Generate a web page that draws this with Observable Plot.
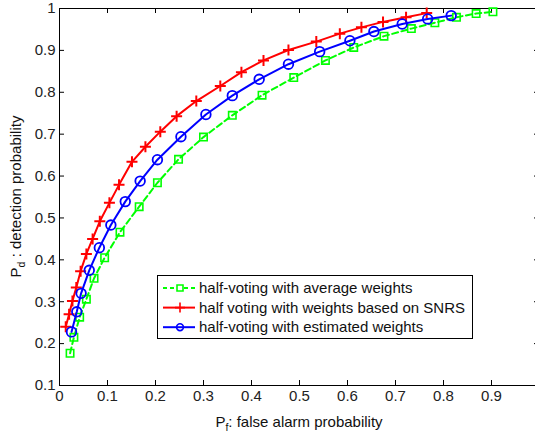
<!DOCTYPE html>
<html><head><meta charset="utf-8">
<script src="https://cdn.jsdelivr.net/npm/d3@7"></script>
<script src="https://cdn.jsdelivr.net/npm/@observablehq/plot@0.6"></script>
<style>
html,body{margin:0;padding:0;background:#fff;}
#chart{position:relative;width:535px;height:435px;overflow:hidden;}
</style></head><body><div id="chart"></div>
<script>
// ---- data ----
const seriesNames = [
  "half-voting with average weights",
  "half voting with weights based on SNRS",
  "half-voting with estimated weights"
];
const seriesColors = ["#00ff00", "#ff0000", "#0000ff"];

const pfAvg = [0.022,0.030,0.042,0.056,0.072,0.094,0.126,0.166,0.204,0.248,0.300,0.360,0.422,0.488,0.554,0.613,0.676,0.733,0.782,0.827,0.868,0.903];
const pdAvg = [0.177,0.215,0.263,0.306,0.356,0.405,0.466,0.527,0.584,0.640,0.693,0.745,0.793,0.835,0.876,0.907,0.934,0.952,0.966,0.979,0.988,0.992];

const pfSnr = [0.013,0.020,0.027,0.035,0.044,0.056,0.069,0.084,0.104,0.124,0.151,0.179,0.210,0.244,0.285,0.335,0.379,0.425,0.477,0.535,0.584,0.629,0.674,0.722,0.765];
const pdSnr = [0.240,0.270,0.302,0.334,0.373,0.414,0.450,0.492,0.536,0.579,0.634,0.670,0.706,0.743,0.779,0.815,0.848,0.876,0.901,0.921,0.940,0.955,0.968,0.979,0.989];

const pfEst = [0.025,0.036,0.045,0.062,0.083,0.107,0.137,0.168,0.204,0.253,0.305,0.360,0.416,0.477,0.542,0.605,0.655,0.714,0.767,0.816];
const pdEst = [0.228,0.276,0.320,0.375,0.429,0.483,0.539,0.588,0.639,0.694,0.747,0.792,0.831,0.867,0.897,0.923,0.945,0.963,0.975,0.983];

const xTicks = [0,0.1,0.2,0.3,0.4,0.5,0.6,0.7,0.8,0.9,1];
const yTicks = [0.1,0.2,0.3,0.4,0.5,0.6,0.7,0.8,0.9,1];
const xLabel = ["P", "f", ": false alarm probability"];
const yLabel = ["P", "d", " : detection probability"];

// ---- custom outline symbols ----
const rOf = size => Math.sqrt(size / Math.PI);
const symSquare = {draw(c, size){ const r = rOf(size); c.rect(-r, -r, 2*r, 2*r); }};
const symPlus = {draw(c, size){ const r = rOf(size); c.moveTo(-r,0); c.lineTo(r,0); c.moveTo(0,-r); c.lineTo(0,r); }};
const symCircle = {draw(c, size){ const r = rOf(size); c.moveTo(r,0); c.arc(0,0,r,0,2*Math.PI); }};

const rows = (xs, ys) => xs.map((x, i) => ({x, y: ys[i]}));
const dAvg = rows(pfAvg, pdAvg), dSnr = rows(pfSnr, pdSnr), dEst = rows(pfEst, pdEst);

const W = 535, H = 435, mL = 59, mR = -4, mT = 8, mB = 50;
const plotW = W - mL - mR, plotH = H - mT - mB;
const font = "'Liberation Sans', Arial, Helvetica, sans-serif";
const fmt = d => d === 0 ? "0" : d === 1 ? "1" : d.toFixed(1);

const chart = Plot.plot({
  width: W, height: H,
  marginLeft: mL, marginRight: mR, marginTop: mT, marginBottom: mB,
  style: {fontFamily: font, fontSize: "15px", color: "#000", background: "#fff", overflow: "hidden"},
  x: {domain: [0, 1]},
  y: {domain: [0.1, 1]},
  marks: [
    Plot.axisX({ticks: xTicks.slice(0, -1), tickSize: 0, tickPadding: 5, tickFormat: fmt, label: null, fill: "#222"}),
    Plot.axisY({ticks: yTicks, tickSize: 0, tickPadding: 4, tickFormat: fmt, label: null, fill: "#222"}),
    // inward ticks on all four sides
    Plot.tickX(xTicks, {x: d => d, insetTop: plotH - 5, stroke: "#000"}),
    Plot.tickX(xTicks, {x: d => d, insetBottom: plotH - 5, stroke: "#000"}),
    Plot.tickY(yTicks, {y: d => d, insetRight: plotW - 5, stroke: "#000"}),
    Plot.tickY(yTicks, {y: d => d, insetLeft: plotW - 5, stroke: "#000"}),
    Plot.frame({stroke: "#000", strokeWidth: 1}),
    // green: average weights
    Plot.line(dAvg, {x: "x", y: "y", stroke: seriesColors[0], strokeWidth: 2, strokeDasharray: "6,3.5"}),
    Plot.dot(dAvg, {x: "x", y: "y", symbol: symSquare, r: 3.7, stroke: seriesColors[0], strokeWidth: 1.6, fill: "none"}),
    // red: SNRS
    Plot.line(dSnr, {x: "x", y: "y", stroke: seriesColors[1], strokeWidth: 2}),
    Plot.dot(dSnr, {x: "x", y: "y", symbol: symPlus, r: 5.5, stroke: seriesColors[1], strokeWidth: 2, fill: "none"}),
    // blue: estimated
    Plot.line(dEst, {x: "x", y: "y", stroke: seriesColors[2], strokeWidth: 2}),
    Plot.dot(dEst, {x: "x", y: "y", symbol: symCircle, r: 4.8, stroke: seriesColors[2], strokeWidth: 1.8, fill: "none"})
  ]
});
document.getElementById("chart").appendChild(chart);

// ---- axis titles with subscripts, legend ----
const svg = d3.select(chart);
function label(parts, x, y, rot){
  const t = svg.append("text")
    .attr("text-anchor", "middle").attr("font-family", font).attr("font-size", 15).attr("fill", "#111")
    .attr("transform", `translate(${x},${y})` + (rot ? ` rotate(${rot})` : ""));
  t.append("tspan").text(parts[0]);
  t.append("tspan").attr("font-size", 10.5).attr("dy", 4).text(parts[1]);
  t.append("tspan").attr("dy", -4).text(parts[2]);
}
label(xLabel, mL + plotW / 2, 427, 0);
label(yLabel, 21, mT + plotH / 2, -90);

const lg = svg.append("g").attr("transform", "translate(157,275)");
lg.append("rect").attr("x", 0.5).attr("y", 0.5).attr("width", 315).attr("height", 63)
  .attr("fill", "#fff").attr("stroke", "#000").attr("stroke-width", 1);
const syms = [symSquare, symPlus, symCircle];
const symSizes = [3, 5, 3.4];
seriesNames.forEach((name, i) => {
  const cy = 13 + i * 19.6;
  lg.append("line").attr("x1", 6).attr("x2", 38).attr("y1", cy).attr("y2", cy)
    .attr("stroke", seriesColors[i]).attr("stroke-width", 2)
    .attr("stroke-dasharray", i === 0 ? "4,3" : null);
  const r = symSizes[i];
  lg.append("path").attr("transform", `translate(23,${cy})`)
    .attr("d", d3.symbol(syms[i], r * r * Math.PI)())
    .attr("fill", i === 0 ? "#fff" : "none").attr("stroke", seriesColors[i]).attr("stroke-width", 1.6);
  lg.append("text").attr("x", 42).attr("y", cy).attr("dy", "0.35em").attr("text-anchor", "start")
    .attr("font-family", font).attr("font-size", 15).attr("fill", "#111").text(name);
});
</script>
</body></html>
